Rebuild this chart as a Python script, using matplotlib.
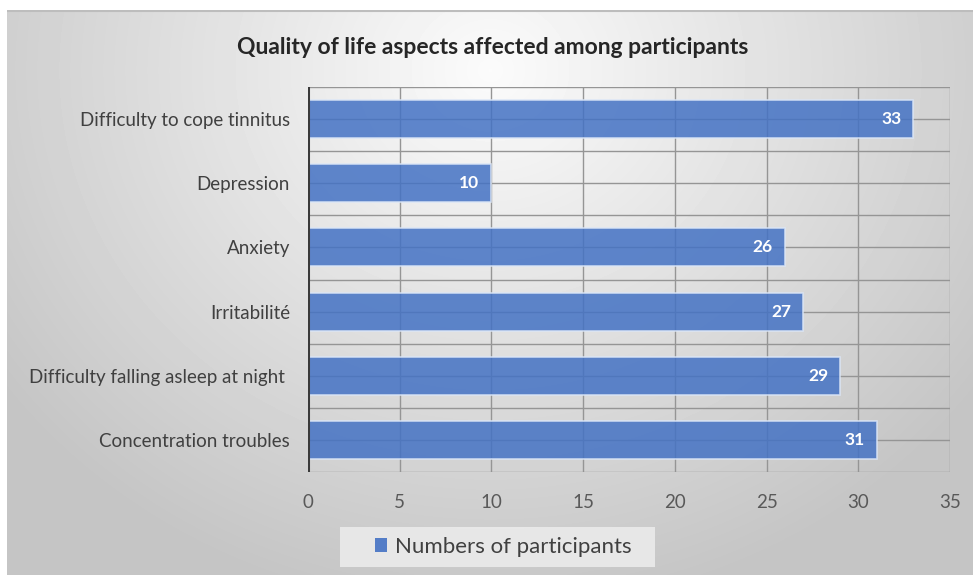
import numpy as np
import matplotlib
matplotlib.use("Agg")
import matplotlib.pyplot as plt
from matplotlib.patches import Patch, Rectangle

plt.rcParams['font.family'] = ['Lato', 'DejaVu Sans']

categories = ["Concentration troubles", "Difficulty falling asleep at night ",
              "Irritabilité", "Anxiety", "Depression", "Difficulty to cope tinnitus"]
participants = [31, 29, 27, 26, 10, 33]
x_ticks = [0, 5, 10, 15, 20, 25, 30, 35]
series_name = "Numbers of participants"
title = "Quality of life aspects affected among participants"

W, H = 973, 575
fig = plt.figure(figsize=(W / 100, H / 100), dpi=100)
fig.patch.set_facecolor("white")

# radial grey background of the chart area
bg = fig.add_axes([7 / W, 0, 1 - 7 / W, 1 - 10 / H], zorder=0)
yy, xx = np.mgrid[0:565, 0:966]
cx, cy = 483, 60
r = np.sqrt(((xx - cx) / 620.0) ** 2 + ((yy - cy) / 560.0) ** 2)
shade = np.clip(0.985 - 0.22 * r, 0.77, 0.985)
bg.imshow(shade, cmap="gray", vmin=0, vmax=1, aspect="auto",
          interpolation="bilinear")
bg.axhline(0, color="#bdbdbd", lw=1.5)
bg.axis("off")

ax = fig.add_axes([308 / W, 1 - 472 / H, 642 / W, 385 / H], zorder=1)
ax.patch.set_alpha(0)

y = np.arange(len(categories))
bars = ax.barh(y, participants, height=0.59, color="#4472c4", alpha=0.85,
               edgecolor="#dbe6f7", linewidth=1.2, zorder=3)

for b, v in zip(bars, participants):
    ax.text(v - 0.65, b.get_y() + b.get_height() / 2, str(v), ha="right",
            va="center", color="white", fontsize=12.5, fontweight="bold",
            zorder=4)

ax.set_xlim(0, 35)
ax.set_ylim(-0.5, len(categories) - 0.5)
ax.set_xticks(x_ticks)
ax.set_xticklabels([str(t) for t in x_ticks])
ax.set_yticks(y)
ax.set_yticklabels(categories)

# grid lines: every 5 units, and at category centres and boundaries
for t in x_ticks:
    ax.axvline(t, color="#959595", lw=1.0, zorder=1)
for k in np.arange(-0.5, len(categories), 0.5):
    ax.axhline(k, color="#959595", lw=1.0, zorder=1)
ax.axvline(0, color="#3a3a3a", lw=2.2, zorder=5)

for s in ax.spines.values():
    s.set_visible(False)
ax.tick_params(axis="both", length=0, labelcolor="#595959")
ax.tick_params(axis="x", labelsize=13.5, pad=16)
ax.tick_params(axis="y", labelsize=13.5, pad=13, labelcolor="#404040")

fig.text(493 / W, 1 - 47 / H, title, ha="center", va="center",
         fontsize=16.5, fontweight="bold", color="#262626")

# legend box drawn separately so it can be wider than the entry
fig.patches.append(Rectangle((340 / W, 1 - 567 / H), 315 / W, 40 / H,
                             transform=fig.transFigure, facecolor="#ebebeb",
                             edgecolor="none", alpha=0.9, zorder=2))
fig.legend(handles=[Patch(facecolor="#4472c4", alpha=0.9, label=series_name)],
           loc="center", bbox_to_anchor=(503 / W, 1 - 547 / H),
           frameon=False, fontsize=16, handlelength=0.55, handleheight=0.55,
           handletextpad=0.35, borderpad=0.5, borderaxespad=0,
           labelcolor="#404040")

fig.savefig("out.png", dpi=100, facecolor=fig.get_facecolor())
